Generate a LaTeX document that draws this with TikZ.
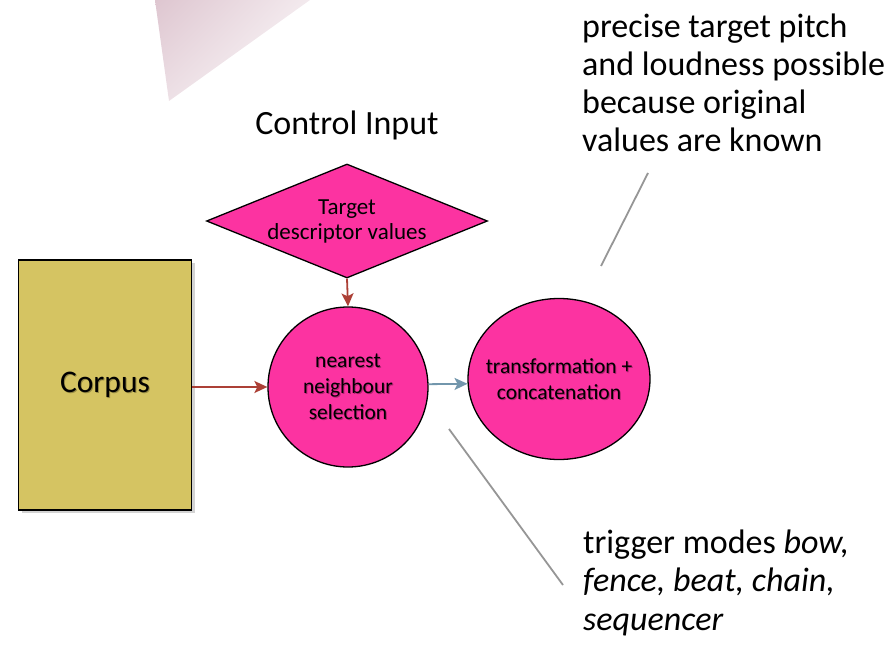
\documentclass[tikz,border=0pt]{standalone}
\usepackage{fontspec}
\setmainfont{Carlito}
\usetikzlibrary{shapes.geometric,shadows,shadings,arrows.meta}

\definecolor{hotpink}{RGB}{252,51,161}
\definecolor{pinkshade}{RGB}{175,35,112}
\definecolor{corpusgold}{RGB}{213,196,98}
\definecolor{goldshade}{RGB}{150,138,68}
\definecolor{linkred}{RGB}{172,64,54}
\definecolor{linkblue}{RGB}{114,150,172}
\definecolor{notegray}{RGB}{150,150,150}
\definecolor{veildark}{RGB}{222,198,208}
\definecolor{veilmid}{RGB}{236,222,228}
\definecolor{veillight}{RGB}{243,234,238}

% text with a soft offset copy behind it
\newcommand\shadowed[2]{\makebox[0pt][l]{\hspace{1pt}\raisebox{-1pt}[0pt][0pt]{\textcolor{#1}{#2}}}#2}

\begin{document}
\begin{tikzpicture}[x=1pt,y=-1pt,
  pinkshape/.style={fill=hotpink,draw=black,line width=1.3pt,inner sep=0pt},
  smalltext/.style={font=\fontsize{21.5}{26}\selectfont,align=center},
  bigtext/.style={font=\fontsize{34}{38.3}\selectfont},
  link/.style={-{Stealth[length=13pt,width=12pt,inset=3pt]},line width=1.8pt},
  pointer/.style={draw=notegray,line width=1.8pt}
]
\useasboundingbox (0,0) rectangle (887,647);

% faded backdrop wedge
\shade[upper left=veildark,upper right=veillight,lower left=veilmid,lower right=white]
  (155,0) -- (310,0) -- (169,101) -- cycle;

% corpus block
\node (corpus) [rectangle,fill=corpusgold,draw=black,line width=1.3pt,
  minimum width=173pt,minimum height=250pt,inner sep=0pt,
  drop shadow={shadow xshift=3pt,shadow yshift=-3pt,opacity=0.35},
  font=\fontsize{31.5}{36}\selectfont] at (105,385) {\shadowed{goldshade}{Corpus}};

% control input
\node (ctrl) [bigtext,anchor=base] at (347,135) {Control Input};

\node (target) [pinkshape,diamond,shape aspect=2.46,minimum width=281pt,
  minimum height=114pt,font=\fontsize{23}{25}\selectfont,align=center]
  at (347,221) {Target\\descriptor values};

% processing stages (text set as centred labels so it does not widen the ellipse)
\node (nn) [pinkshape,ellipse,minimum width=160pt,minimum height=160pt,
  label={[smalltext]center:{\shadowed{pinkshade}{nearest}\\\shadowed{pinkshade}{neighbour}\\\shadowed{pinkshade}{selection}}}]
  at (348,387) {};
\node (tc) [pinkshape,ellipse,minimum width=182pt,minimum height=161pt,
  label={[smalltext]center:{\shadowed{pinkshade}{transformation +}\\\shadowed{pinkshade}{concatenation}}}]
  at (559,379) {};

\draw[link,linkred] (corpus.east |- nn.west) -- (nn.west);
\draw[link,linkred] (target.south) -- (nn.north);
\draw[link,linkblue] (nn.2) -- (tc.183);

% annotations (base anchor sits on the last line)
\node (pitchnote) [bigtext,anchor=base west,align=left,inner sep=0pt] at (582,152)
  {precise target pitch\\and loudness possible\\because original\\values are known};
\node (trignote) [bigtext,anchor=base west,align=left,inner sep=0pt] at (583,630)
  {trigger modes \textit{bow,}\\\textit{fence, beat, chain,}\\\textit{sequencer}};

\coordinate (pitchtip) at (648,173);
\coordinate (pitchend) at (601,266);
\coordinate (trigtip) at (449,429);
\coordinate (trigend) at (563,585);
\draw[pointer] (pitchtip) -- (pitchend);
\draw[pointer] (trigtip) -- (trigend);
\end{tikzpicture}
\end{document}
